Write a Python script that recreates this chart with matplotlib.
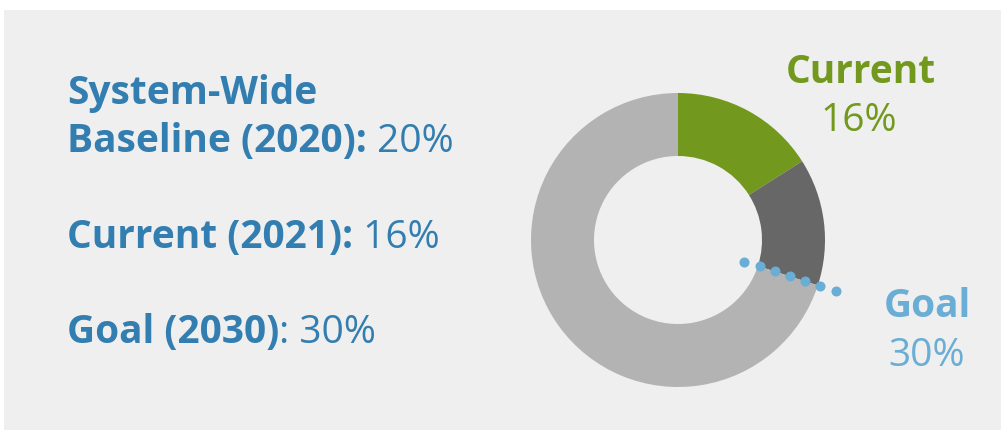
import matplotlib
matplotlib.use("Agg")
import matplotlib.pyplot as plt
import numpy as np

# ---- data ----
current_pct = 16
goal_pct = 30
baseline_pct = 20
segment_labels = ["Current", "Gap to goal", "Remaining"]
segment_values = [current_pct, goal_pct - current_pct, 100 - goal_pct]
segment_colors = ["#72991d", "#676767", "#b3b3b3"]

left_lines = [
    ("System-Wide", ""),
    ("Baseline (2020):", f" {baseline_pct}%"),
    ("Current (2021):", f" {current_pct}%"),
    ("Goal (2030)", f": {goal_pct}%"),
]

W, H = 1001, 430
DPI = 100
plt.rcParams['font.family'] = ['Open Sans', 'DejaVu Sans']

fig = plt.figure(figsize=(W / DPI, H / DPI), dpi=DPI)
fig.patch.set_facecolor("white")

# background panel
bg = fig.add_axes([4 / W, 0, 1 - 4 / W, (H - 10) / H])
bg.set_facecolor("#efefef")
bg.set_xticks([]); bg.set_yticks([])
for s in bg.spines.values():
    s.set_visible(False)

# donut
cx, cy, R = 678, H - 240, 147
half = 175
ax = fig.add_axes([(cx - half) / W, (cy - half) / H, 2 * half / W, 2 * half / H])
ax.set_facecolor("none")
ax.pie(segment_values, colors=segment_colors, startangle=90, counterclock=False,
       radius=1.0, wedgeprops=dict(width=1 - 84 / 147, edgecolor="none"))
lim = half / R
ax.set_xlim(-lim, lim); ax.set_ylim(-lim, lim)
ax.set_aspect("equal")
ax.axis("off")

# dotted goal marker
ang = np.deg2rad(90 - goal_pct / 100 * 360)
rr = np.linspace(0.474, 1.128, 7)
ax.plot(rr * np.cos(ang), rr * np.sin(ang), linestyle="none", marker="o",
        markersize=6.2, color="#6aadd5", clip_on=False)

blue = "#337eb0"
fs = 28

fig.canvas.draw()
renderer = fig.canvas.get_renderer()

x0 = 67
baselines = [104, 152, 248, 343]
for (bold, reg), yb in zip(left_lines, baselines):
    t = fig.text(x0 / W, (H - yb) / H, bold, fontsize=fs, fontweight="bold",
                 color=blue, va="baseline", ha="left")
    if reg:
        bb = t.get_window_extent(renderer=renderer)
        fig.text(bb.x1 / W, (H - yb) / H, reg, fontsize=fs, fontweight="normal",
                 color=blue, va="baseline", ha="left")

# right labels
fig.text(861 / W, (H - 83) / H, "Current", fontsize=fs, fontweight="bold",
         color="#72991d", ha="center", va="baseline")
fig.text(859 / W, (H - 131) / H, f"{current_pct}%", fontsize=fs,
         color="#72991d", ha="center", va="baseline")
fig.text(927 / W, (H - 317) / H, "Goal", fontsize=fs, fontweight="bold",
         color="#6aadd5", ha="center", va="baseline")
fig.text(927 / W, (H - 366) / H, f"{goal_pct}%", fontsize=fs,
         color="#6aadd5", ha="center", va="baseline")

fig.savefig("out.png", dpi=DPI, facecolor=fig.get_facecolor())
